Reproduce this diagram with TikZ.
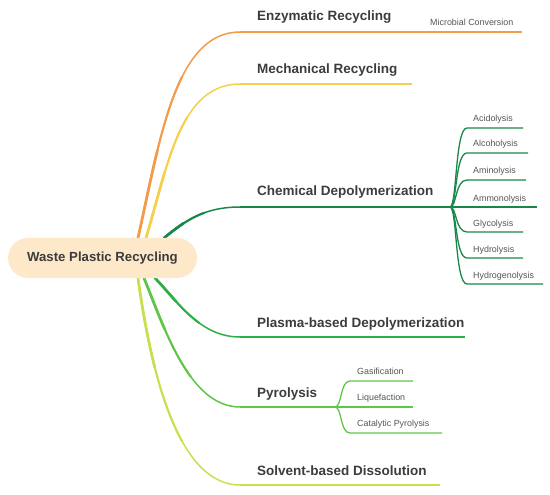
\documentclass[tikz,border=0pt]{standalone}
\usepackage{fontspec}
\setmainfont{Liberation Sans}
\usetikzlibrary{calc}
\definecolor{corange}{HTML}{F29B4B}
\definecolor{cyellow}{HTML}{F7CF4A}
\definecolor{cdgreen}{HTML}{17874A}
\definecolor{cmgreen}{HTML}{2EAF44}
\definecolor{clgreen}{HTML}{5FC64A}
\definecolor{cygreen}{HTML}{C8E050}
\definecolor{rootfill}{HTML}{FDE8CA}
\definecolor{maintext}{HTML}{3C3C3C}
\definecolor{subtext}{HTML}{555555}
% tapered curve: colour, start, control 1, control 2, end
\newcommand{\taperbranch}[5]{%
  \draw[#1, line width=1.5pt] (#2) .. controls (#3) and (#4) .. (#5);
  \foreach \tt/\ww in {0.6/2.1, 0.3/2.7}{%
    \coordinate (q1) at ($(#2)!\tt!(#3)$);
    \coordinate (m12) at ($(#3)!\tt!(#4)$);
    \coordinate (m23) at ($(#4)!\tt!(#5)$);
    \coordinate (q2) at ($(q1)!\tt!(m12)$);
    \coordinate (r2) at ($(m12)!\tt!(m23)$);
    \coordinate (q3) at ($(q2)!\tt!(r2)$);
    \draw[#1, line width=\ww pt, line cap=round] (#2) .. controls (q1) and (q2) .. (q3);
  }%
}
\begin{document}
\begin{tikzpicture}[x=1pt,y=-1pt,
  mainlabel/.style={font=\bfseries\fontsize{13.5}{16}\selectfont, text=maintext, inner sep=0pt, anchor=base west},
  sublabel/.style={font=\fontsize{8.9}{10}\selectfont, text=subtext, inner sep=0pt, anchor=base west},
  rootbox/.style={fill=rootfill, rounded corners=20pt, minimum width=189pt, minimum height=40pt, inner sep=0pt,
                  font=\bfseries\fontsize{13.2}{16}\selectfont, text=maintext},
  linepart/.style={line width=1.4pt},
  subcurve/.style={line width=1.3pt}
]
\useasboundingbox (0,0) rectangle (550,495);

% ---------- start points (behind the root box) ----------
\coordinate (rE) at (138,238);
\coordinate (rM) at (146,238);
\coordinate (rC) at (164,238);
\coordinate (rP) at (155,278);
\coordinate (rY) at (144,278);
\coordinate (rS) at (138,278);

% ---------- control points ----------
\coordinate (aE) at (160,140); \coordinate (bE) at (175,32);
\coordinate (aM) at (168,165); \coordinate (bM) at (180,84);
\coordinate (aC) at (186,220); \coordinate (bC) at (205,207);
\coordinate (aP) at (178,302); \coordinate (bP) at (200,337);
\coordinate (aY) at (165,330); \coordinate (bY) at (190,407);
\coordinate (aS) at (152,380); \coordinate (bS) at (180,485);

% ---------- turning and end points ----------
\coordinate (eE) at (240,32);  \coordinate (fE) at (522,32);
\coordinate (eM) at (240,84);  \coordinate (fM) at (412,84);
\coordinate (eC) at (240,207); \coordinate (fC) at (450,207);
\coordinate (eP) at (240,337); \coordinate (fP) at (465,337);
\coordinate (eY) at (240,407); \coordinate (fY) at (335,407);
\coordinate (eS) at (240,485); \coordinate (fS) at (440,485);

% ---------- main branches ----------
\taperbranch{corange}{rE}{aE}{bE}{eE}
\draw[linepart, corange] (eE) -- (fE);
\taperbranch{cyellow}{rM}{aM}{bM}{eM}
\draw[linepart, cyellow] (eM) -- (fM);
\taperbranch{cdgreen}{rC}{aC}{bC}{eC}
\draw[linepart, cdgreen] (eC) -- (fC);
\taperbranch{cmgreen}{rP}{aP}{bP}{eP}
\draw[linepart, cmgreen] (eP) -- (fP);
\taperbranch{clgreen}{rY}{aY}{bY}{eY}
\draw[linepart, clgreen] (eY) -- (fY);
\taperbranch{cygreen}{rS}{aS}{bS}{eS}
\draw[linepart, cygreen] (eS) -- (fS);

% ---------- root ----------
\node[rootbox] (root) at (102.5,258) {Waste Plastic Recycling};

% ---------- main labels ----------
\node[mainlabel] (tE) at (257,21) {Enzymatic Recycling};
\node[mainlabel] (tM) at (257,74) {Mechanical Recycling};
\node[mainlabel] (tC) at (257,196) {Chemical Depolymerization};
\node[mainlabel] (tP) at (257,327) {Plasma-based Depolymerization};
\node[mainlabel] (tY) at (257,397) {Pyrolysis};
\node[mainlabel] (tS) at (257,475) {Solvent-based Dissolution};

\node[sublabel] (tMC) at (430,26) {Microbial Conversion};

% ---------- chemical sub-branches ----------
\foreach \y/\xe/\lab/\nm in {128/523/Acidolysis/a, 153/528/Alcoholysis/b, 180/526/Aminolysis/c,
   207/537/Ammonolysis/d, 232/523/Glycolysis/e, 258/523/Hydrolysis/f, 284/543/Hydrogenolysis/g}{
  \coordinate (cs\nm) at (467,\y);
  \coordinate (ce\nm) at (\xe,\y);
  \draw[subcurve, cdgreen] (fC) .. controls (457,207) and (455,\y) .. (cs\nm) -- (ce\nm);
  \node[sublabel] (cl\nm) at (473,\y-6) {\lab};
}

% ---------- pyrolysis sub-branches ----------
\foreach \y/\xe/\lab/\nm in {381/413/Gasification/a, 407/413/Liquefaction/b, 433/442/Catalytic Pyrolysis/c}{
  \coordinate (ps\nm) at (350,\y);
  \coordinate (pe\nm) at (\xe,\y);
  \draw[subcurve, clgreen] (fY) .. controls (342,407) and (340,\y) .. (ps\nm) -- (pe\nm);
  \node[sublabel] (pl\nm) at (357,\y-6.5) {\lab};
}
\end{tikzpicture}
\end{document}
